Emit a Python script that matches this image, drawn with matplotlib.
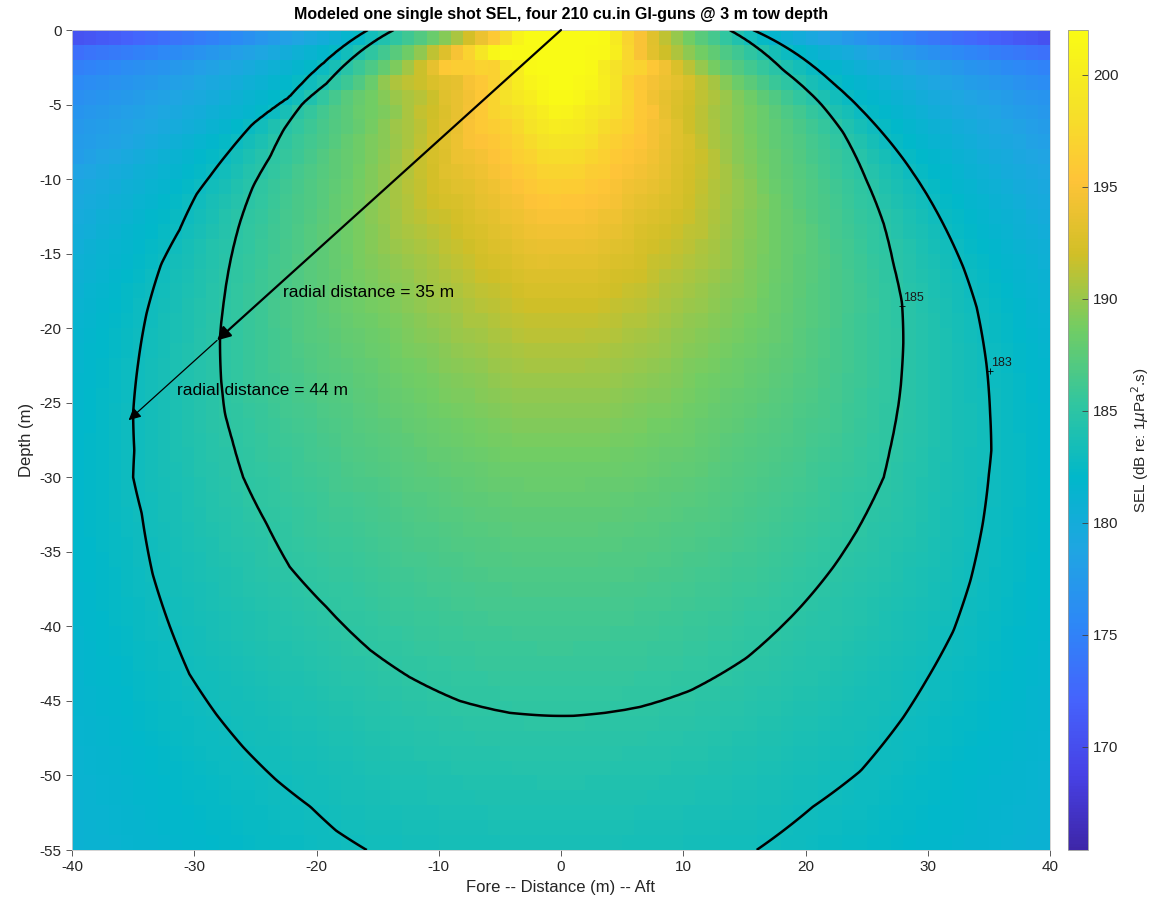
import numpy as np
import matplotlib as mpl
mpl.use('Agg')
from matplotlib import pyplot as plt
from matplotlib.colors import LinearSegmentedColormap

plt.rcParams['font.family'] = ['Liberation Sans', 'DejaVu Sans']
plt.rcParams['axes.unicode_minus'] = False

#------------------ data ----------------------------
# points along the 185 dB and 183 dB isolines (x: m, y: m, 0 = surface)
c185_x = [13.8, 18.2, 21.2, 23.1, 25.0, 26.4, 27.2, 27.9, 28.0, 27.7, 26.9,
          26.4, 24.2, 22.3, 19.6, 15.2, 10.6, 6.5, 1.0, -4.2, -8.3, -12.4,
          -15.6, -19.2, -22.2, -24.1, -26.0, -26.9, -27.5, -27.8, -27.9, -27.6,
          -27.1, -26.3, -25.2, -23.8, -22.7, -21.1, -19.2, -16.2, -13.7]
c185_y = [0, -2.7, -4.9, -6.9, -10.1, -13.0, -15.7, -18.3, -21.0, -24.6, -28.2,
          -30.0, -33.6, -36.0, -38.7, -42.1, -44.3, -45.4, -46.0, -45.8, -45.0,
          -43.4, -41.6, -38.7, -36.0, -33.1, -30.0, -27.5, -25.7, -23.5, -20.6,
          -18.3, -15.7, -13.0, -10.5, -8.5, -6.7, -4.9, -3.6, -1.3, 0]
c183_x = [15.7, 19.6, 22.3, 25.3, 27.2, 29.9, 32.9, 34.0, 34.8, 35.1, 35.2,
          35.0, 34.5, 33.5, 32.1, 29.9, 28.0, 24.5, 20.6, 16.0, 0.0, -15.9,
          -18.4, -20.5, -23.3, -26.0, -28.2, -30.4, -32.0, -33.4, -34.3, -35.0,
          -34.9, -35.0, -34.6, -33.9, -32.7, -31.2, -29.8, -28.7, -27.1, -25.2,
          -22.2, -19.4, -15.8]
c183_y = [0, -1.8, -3.6, -6.0, -7.8, -11.0, -15.9, -18.6, -22.4, -25.7, -28.2,
          -29.8, -33.1, -36.9, -40.3, -43.6, -46.1, -49.7, -52.1, -55.0, -58.0,
          -55.0, -53.7, -52.1, -50.3, -48.1, -45.9, -43.2, -40.0, -36.5, -32.4,
          -30.0, -28.2, -25.7, -22.4, -19.0, -15.7, -13.4, -11.0, -9.8, -8.1,
          -6.3, -4.5, -2.2, 0]
levels = [183, 185]
peak_sel = 202.0
sel_range = (165.4, 202.0)
radial_dist = [35, 44]      # m
ray_angle = 36.5            # deg below surface, fore side

# parula
parula = LinearSegmentedColormap.from_list('parula', [
    (0.2422, 0.1504, 0.6603), (0.2783, 0.2559, 0.8991), (0.2699, 0.3892, 0.9906),
    (0.1786, 0.5289, 0.9682), (0.1248, 0.6459, 0.8883), (0.0036, 0.7203, 0.7917),
    (0.1938, 0.7758, 0.6251), (0.4456, 0.8024, 0.3909), (0.8203, 0.7498, 0.1535),
    (0.9970, 0.7659, 0.2199), (0.9610, 0.8890, 0.1537), (0.9769, 0.9839, 0.0805)])


def polar(xs, ys):
    xs = np.asarray(xs, float)
    d = np.abs(np.asarray(ys, float))
    phi = np.degrees(np.arctan2(d, xs))
    order = np.argsort(phi)
    return phi[order], np.hypot(xs, d)[order]


p185, r185_tab = polar(c185_x, c185_y)
p183, r183_tab = polar(c183_x, c183_y)


def sel_field(x, y):
    d = np.abs(y)
    r = np.maximum(np.hypot(x, d), 0.1)
    phi = np.degrees(np.arctan2(d, x))
    r185 = np.interp(phi, p185, r185_tab)
    r183 = np.interp(phi, p183, r183_tab)
    k = (levels[1] - levels[0]) / np.log(r183 / r185)
    k_in = np.clip(0.85 * k, 7.0, 16.0)
    # spherical spreading outside, steeper in the first metres (surface reflection)
    k_out = 8.69 + 5.0 * np.exp(-d / 1.5)
    sel = np.where(r <= r185, levels[1] + k_in * np.log(r185 / r),
                   np.where(r <= r183, levels[1] - k * np.log(r / r185),
                            levels[0] - k_out * np.log(r / r183)))
    # near field of the array saturates
    ks = 1.2
    return -ks * np.logaddexp(-sel / ks, -peak_sel / ks)


#------------------ plot ----------------------------
fig = plt.figure(figsize=(11.51, 9.11), dpi=100)
ax = fig.add_axes([72/1151, 61/911, 978/1151, 820/911])

xe = np.arange(-40, 41, 1.0)
ye = np.arange(-55, 1, 1.0)
# each cell takes the value at its upper edge
XC, YC = np.meshgrid(xe[:-1] + 0.5, ye[1:])
mesh = ax.pcolormesh(xe, ye, sel_field(XC, YC), cmap=parula,
                     vmin=sel_range[0], vmax=sel_range[1], shading='flat')

XF, YF = np.meshgrid(np.linspace(-40, 40, 401), np.linspace(-55, 0, 276))
ax.contour(XF, YF, sel_field(XF, YF), levels=levels, colors='k', linewidths=1.8)

for lev, (lx, ly) in zip(levels, [(35.1, -22.9), (27.9, -18.5)]):
    ax.plot(lx, ly, '+', color='k', ms=4, mew=0.6)
    ax.text(lx + 0.05, ly + 0.15, str(lev), fontsize=9, color='0.1', va='bottom')

th = np.radians(ray_angle)
ends = [(-r * np.cos(th), -r * np.sin(th)) for r in radial_dist]
ax.annotate('', xy=ends[0], xytext=(0, 0),
            arrowprops=dict(arrowstyle='-|>', color='k', lw=1.6,
                            mutation_scale=20, shrinkA=0, shrinkB=0))
ax.annotate('', xy=ends[1], xytext=ends[0],
            arrowprops=dict(arrowstyle='-|>', color='k', lw=0.9,
                            mutation_scale=18, shrinkA=0, shrinkB=0))
ax.text(-22.7, -17.6, 'radial distance = %d m' % radial_dist[0], fontsize=12.5, va='center')
ax.text(-31.4, -24.2, 'radial distance = %d m' % radial_dist[1], fontsize=12.5, va='center')

ax.set_xlim(-40, 40)
ax.set_ylim(-55, 0)
ax.set_xticks(range(-40, 41, 10))
ax.set_yticks(range(-55, 1, 5))
ax.tick_params(direction='out', length=4, width=0.6, labelsize=11,
               colors='0.25', labelcolor='0.15')
for s in ax.spines.values():
    s.set_color('0.8')
    s.set_linewidth(0.6)
ax.set_xlabel('Fore -- Distance (m) -- Aft', fontsize=12, color='0.15', labelpad=4)
ax.set_ylabel('Depth (m)', fontsize=12, color='0.15', labelpad=4)
ax.set_title('Modeled one single shot SEL, four 210 cu.in GI-guns @ 3 m tow depth',
             fontsize=11.5, fontweight='bold', pad=8)

cax = fig.add_axes([1068/1151, 61/911, 20/1151, 820/911])
cb = fig.colorbar(mesh, cax=cax, ticks=range(170, 201, 5))
cb.outline.set_linewidth(0.6)
cb.outline.set_edgecolor('0.6')
cax.tick_params(direction='in', length=4, width=0.6, labelsize=11,
                colors='0.25', labelcolor='0.15')
cb.set_label(r'SEL (dB re: 1$\mu$Pa$^2$.s)', fontsize=11, color='0.15', labelpad=8)

plt.savefig('out.png', dpi=100)
